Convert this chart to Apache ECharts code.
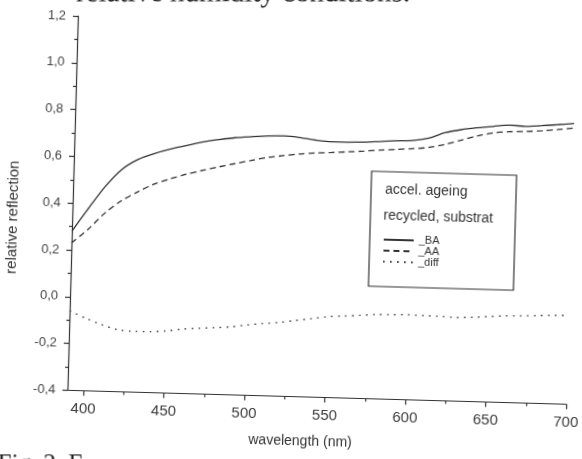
<!DOCTYPE html>
<html>
<head>
<meta charset="utf-8">
<script src="https://cdn.jsdelivr.net/npm/echarts@6/dist/echarts.min.js"></script>
<style>
  html, body { margin: 0; padding: 0; background: #fff; overflow: hidden; width: 582px; height: 459px; }
  /* the figure sits slightly tilted on the page */
  #chart { position: absolute; left: -30px; top: -30px; width: 642px; height: 519px;
           transform: rotate(1.6deg); transform-origin: 321px 259.5px; }
</style>
</head>
<body>
<div id="chart"></div>
<script>
// Wavelength grid (nm)
const wavelengths = [390, 400, 410, 420, 430, 440, 450, 460, 470, 480, 490, 500, 510, 520, 530, 540,
                     550, 560, 570, 580, 590, 600, 610, 620, 630, 640, 650, 660, 670, 680, 690, 700];
// Relative reflection before ageing
const reflectBA = [0.28, 0.38, 0.475, 0.55, 0.595, 0.622, 0.643, 0.66, 0.677, 0.689, 0.699, 0.705, 0.71, 0.712, 0.707, 0.698,
                   0.693, 0.693, 0.695, 0.70, 0.705, 0.708, 0.72, 0.745, 0.76, 0.77, 0.778, 0.785, 0.782, 0.787, 0.793, 0.80];
// Relative reflection after accelerated ageing
const reflectAA = [0.23, 0.29, 0.36, 0.415, 0.455, 0.49, 0.515, 0.537, 0.555, 0.572, 0.588, 0.603, 0.618, 0.628, 0.637, 0.643,
                   0.647, 0.652, 0.657, 0.663, 0.668, 0.673, 0.68, 0.695, 0.715, 0.735, 0.75, 0.757, 0.76, 0.765, 0.772, 0.78];
// Difference curve
const reflectDiff = [-0.06, -0.09, -0.115, -0.135, -0.14, -0.14, -0.135, -0.125, -0.12, -0.115, -0.11, -0.10, -0.092, -0.085, -0.075, -0.065,
                     -0.055, -0.05, -0.045, -0.04, -0.038, -0.037, -0.038, -0.04, -0.042, -0.04, -0.035, -0.03, -0.028, -0.025, -0.022, -0.02];
// Axis ticks
const xTickValues = [400, 450, 500, 550, 600, 650, 700];
const xMinorTickValues = [425, 475, 525, 575, 625, 675];
const legendNames = ['_BA', '_AA', '_diff'];
const legendTitles = ['accel. ageing', 'recycled, substrat'];

const ink = '#333';
const font = 'Liberation Sans, Arial, sans-serif';
const serif = 'Liberation Serif, Times New Roman, serif';
const unTilt = 0.0279; // keeps the caption lines level on the page

const pairs = vals => wavelengths.map((w, i) => [w, vals[i]]);

const chart = echarts.init(document.getElementById('chart'), null, { renderer: 'canvas' });
chart.setOption({
  animation: false,
  backgroundColor: '#fff',
  grid: { left: 102, top: 52, right: 41, bottom: 92.5, containLabel: false },
  xAxis: [{
    type: 'value', min: 390, max: 700,
    axisLine: { show: true, onZero: false, lineStyle: { color: ink, width: 1.2 } },
    axisTick: { show: true, inside: false, length: 5, customValues: xTickValues, lineStyle: { color: ink, width: 1.2 } },
    axisLabel: { customValues: xTickValues, fontSize: 15, color: '#3c3c3c', margin: 11, fontFamily: font },
    splitLine: { show: false }
  }, {
    type: 'value', min: 390, max: 700, position: 'bottom',
    axisLine: { show: false, onZero: false },
    axisTick: { show: true, inside: false, length: 3, customValues: xMinorTickValues, lineStyle: { color: ink, width: 1.2 } },
    axisLabel: { show: false },
    splitLine: { show: false }
  }],
  yAxis: {
    type: 'value', min: -0.4, max: 1.2, interval: 0.2,
    axisLine: { show: true, onZero: false, lineStyle: { color: ink, width: 1.2 } },
    axisTick: { show: true, inside: false, length: 5, lineStyle: { color: ink, width: 1.2 } },
    minorTick: { show: true, splitNumber: 2, length: 3, lineStyle: { color: ink, width: 1.2 } },
    axisLabel: { fontSize: 13, color: '#444', margin: 12, fontFamily: font,
                 formatter: v => v.toFixed(1).replace('.', ',') },
    splitLine: { show: false }
  },
  legend: {
    data: legendNames, orient: 'vertical', left: 413, top: 261.5, padding: 0,
    itemWidth: 30, itemHeight: 8, itemGap: 0, selectedMode: false,
    itemStyle: { opacity: 0 },
    textStyle: { fontSize: 11, lineHeight: 9.5, color: ink, fontFamily: font }
  },
  series: [
    { name: legendNames[0], type: 'line', data: pairs(reflectBA), smooth: 0.3, symbol: 'none',
      itemStyle: { color: ink }, lineStyle: { color: ink, width: 1.3, type: 'solid' } },
    { name: legendNames[1], type: 'line', data: pairs(reflectAA), smooth: 0.3, symbol: 'none',
      itemStyle: { color: ink }, lineStyle: { color: ink, width: 1.3, type: [6, 4] } },
    { name: legendNames[2], type: 'line', data: pairs(reflectDiff), smooth: 0.3, symbol: 'none',
      itemStyle: { color: ink }, lineStyle: { color: ink, width: 1.4, type: [1.5, 5.5] } }
  ],
  graphic: [
    { type: 'rect', shape: { x: 400, y: 199, width: 145, height: 115 },
      style: { fill: 'none', stroke: ink, lineWidth: 1.2 } },
    { type: 'text', x: 414, y: 217, style: { text: legendTitles[0], font: '14px ' + font, fill: ink, verticalAlign: 'middle' } },
    { type: 'text', x: 413, y: 243, style: { text: legendTitles[1], font: '14px ' + font, fill: ink, verticalAlign: 'middle' } },
    { type: 'text', x: 336, y: 471, style: { text: 'wavelength (nm)', font: '14px ' + font, fill: ink, align: 'center', verticalAlign: 'middle' } },
    { type: 'text', x: 43, y: 255, rotation: Math.PI / 2,
      style: { text: 'relative reflection', font: '15px ' + font, fill: ink, align: 'center', verticalAlign: 'middle' } },
    { type: 'text', x: 434, y: 35, rotation: unTilt,
      style: { text: 'relative humidity conditions.', font: '29px ' + serif, fill: '#222', align: 'right', verticalAlign: 'bottom' } },
    { type: 'text', x: 34, y: 490, rotation: unTilt,
      style: { text: 'Fig. 2. F', font: '25px ' + serif, fill: '#222', align: 'left', verticalAlign: 'top' } }
  ]
});
</script>
</body>
</html>
